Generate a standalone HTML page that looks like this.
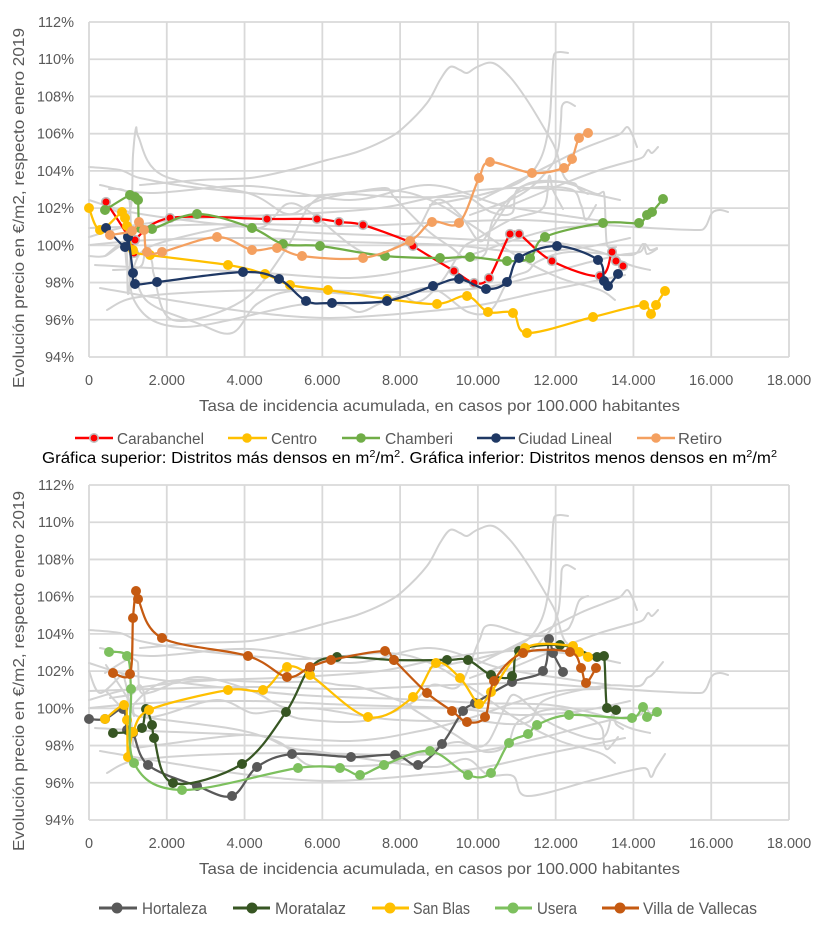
<!DOCTYPE html>
<html>
<head>
<meta charset="utf-8">
<style>
  html,body{margin:0;padding:0;background:#fff;}
  svg{display:block;}
  .tk{font-family:"Liberation Sans",Arial,sans-serif;font-size:14.5px;fill:#595959;}
  .ti{font-family:"Liberation Sans",Arial,sans-serif;font-size:16px;fill:#595959;}
  .lg{font-family:"Liberation Sans",Arial,sans-serif;fill:#595959;}
  .cap{font-family:"Liberation Sans",Arial,sans-serif;font-size:15.5px;fill:#000;}
</style>
</head>
<body>
<svg id="c" xmlns="http://www.w3.org/2000/svg" width="827" height="929" viewBox="0 0 827 929">
  <rect x="0" y="0" width="827" height="929" fill="#fff"/>
  <g id="grid"></g>
  <g id="gray" fill="none" stroke="#D2D2D2" stroke-width="2" stroke-linejoin="round" stroke-linecap="round"></g>
  <g id="ser"></g>

  <!-- TOP CHART TEXT -->
  <g class="tk" text-anchor="end">
    <text x="74" y="27">112%</text>
    <text x="74" y="64.2">110%</text>
    <text x="74" y="101.4">108%</text>
    <text x="74" y="138.7">106%</text>
    <text x="74" y="175.9">104%</text>
    <text x="74" y="213.1">102%</text>
    <text x="74" y="250.3">100%</text>
    <text x="74" y="287.6">98%</text>
    <text x="74" y="324.8">96%</text>
    <text x="74" y="362">94%</text>
  </g>
  <g class="tk" text-anchor="middle">
    <text x="89" y="385">0</text>
    <text x="166.8" y="385">2.000</text>
    <text x="244.6" y="385">4.000</text>
    <text x="322.3" y="385">6.000</text>
    <text x="400.1" y="385">8.000</text>
    <text x="477.9" y="385">10.000</text>
    <text x="555.7" y="385">12.000</text>
    <text x="633.4" y="385">14.000</text>
    <text x="711.2" y="385">16.000</text>
    <text x="789" y="385">18.000</text>
  </g>
  <text class="ti" x="199" y="411" textLength="481" lengthAdjust="spacingAndGlyphs">Tasa de incidencia acumulada, en casos por 100.000 habitantes</text>
  <text class="ti" transform="translate(24,208) rotate(-90)" text-anchor="middle" textLength="360" lengthAdjust="spacingAndGlyphs">Evolución precio en €/m2, respecto enero 2019</text>

  <!-- TOP LEGEND -->
  <g>
    <line x1="75" y1="438" x2="113" y2="438" stroke="#FF0000" stroke-width="2.5"/>
    <circle cx="94" cy="438" r="4.2" fill="#FF0000" stroke="#BFBFBF" stroke-width="1.6"/>
    <line x1="228" y1="438" x2="267" y2="438" stroke="#FFC000" stroke-width="2.5"/>
    <circle cx="247" cy="438" r="4.8" fill="#FFC000"/>
    <line x1="342" y1="438" x2="380" y2="438" stroke="#70AD47" stroke-width="2.5"/>
    <circle cx="361" cy="438" r="4.8" fill="#70AD47"/>
    <line x1="477" y1="438" x2="515" y2="438" stroke="#1F3864" stroke-width="2.5"/>
    <circle cx="496" cy="438" r="4.8" fill="#1F3864"/>
    <line x1="637" y1="438" x2="675" y2="438" stroke="#F4A060" stroke-width="2.5"/>
    <circle cx="656" cy="438" r="4.8" fill="#F4A060"/>
  </g>
  <g class="lg" font-size="15.5">
    <text x="117" y="444" textLength="87" lengthAdjust="spacingAndGlyphs">Carabanchel</text>
    <text x="271" y="444" textLength="46" lengthAdjust="spacingAndGlyphs">Centro</text>
    <text x="385" y="444" textLength="68" lengthAdjust="spacingAndGlyphs">Chamberi</text>
    <text x="518" y="444" textLength="94" lengthAdjust="spacingAndGlyphs">Ciudad Lineal</text>
    <text x="678" y="444" textLength="44" lengthAdjust="spacingAndGlyphs">Retiro</text>
  </g>

  <!-- CAPTION -->
  <text class="cap" x="42" y="463" textLength="735" lengthAdjust="spacingAndGlyphs">Gráfica superior: Distritos más densos en m<tspan dy="-6" font-size="10">2</tspan><tspan dy="6">/m</tspan><tspan dy="-6" font-size="10">2</tspan><tspan dy="6">. Gráfica inferior: Distritos menos densos en m</tspan><tspan dy="-6" font-size="10">2</tspan><tspan dy="6">/m</tspan><tspan dy="-6" font-size="10">2</tspan></text>

  <!-- BOTTOM CHART TEXT -->
  <g class="tk" text-anchor="end">
    <text x="74" y="490">112%</text>
    <text x="74" y="527.2">110%</text>
    <text x="74" y="564.4">108%</text>
    <text x="74" y="601.7">106%</text>
    <text x="74" y="638.9">104%</text>
    <text x="74" y="676.1">102%</text>
    <text x="74" y="713.3">100%</text>
    <text x="74" y="750.6">98%</text>
    <text x="74" y="787.8">96%</text>
    <text x="74" y="825">94%</text>
  </g>
  <g class="tk" text-anchor="middle">
    <text x="89" y="848">0</text>
    <text x="166.8" y="848">2.000</text>
    <text x="244.6" y="848">4.000</text>
    <text x="322.3" y="848">6.000</text>
    <text x="400.1" y="848">8.000</text>
    <text x="477.9" y="848">10.000</text>
    <text x="555.7" y="848">12.000</text>
    <text x="633.4" y="848">14.000</text>
    <text x="711.2" y="848">16.000</text>
    <text x="789" y="848">18.000</text>
  </g>
  <text class="ti" x="199" y="874" textLength="481" lengthAdjust="spacingAndGlyphs">Tasa de incidencia acumulada, en casos por 100.000 habitantes</text>
  <text class="ti" transform="translate(24,671) rotate(-90)" text-anchor="middle" textLength="360" lengthAdjust="spacingAndGlyphs">Evolución precio en €/m2, respecto enero 2019</text>

  <!-- BOTTOM LEGEND -->
  <g>
    <line x1="99" y1="908" x2="137" y2="908" stroke="#595959" stroke-width="3"/>
    <circle cx="117" cy="908" r="5.5" fill="#595959"/>
    <line x1="233" y1="908" x2="270" y2="908" stroke="#375623" stroke-width="3"/>
    <circle cx="252" cy="908" r="5.5" fill="#375623"/>
    <line x1="372" y1="908" x2="409" y2="908" stroke="#FFC000" stroke-width="3"/>
    <circle cx="390" cy="908" r="5.5" fill="#FFC000"/>
    <line x1="495" y1="908" x2="532" y2="908" stroke="#7DC05E" stroke-width="3"/>
    <circle cx="513" cy="908" r="5.5" fill="#7DC05E"/>
    <line x1="602" y1="908" x2="639" y2="908" stroke="#C55A11" stroke-width="3"/>
    <circle cx="620" cy="908" r="5.5" fill="#C55A11"/>
  </g>
  <g class="lg" font-size="16.5">
    <text x="142" y="914" textLength="65" lengthAdjust="spacingAndGlyphs">Hortaleza</text>
    <text x="275" y="914" textLength="71" lengthAdjust="spacingAndGlyphs">Moratalaz</text>
    <text x="413" y="914" textLength="57" lengthAdjust="spacingAndGlyphs">San Blas</text>
    <text x="537" y="914" textLength="40" lengthAdjust="spacingAndGlyphs">Usera</text>
    <text x="643" y="914" textLength="114" lengthAdjust="spacingAndGlyphs">Villa de Vallecas</text>
  </g>
</svg>

<script>
(function(){
  var NS='http://www.w3.org/2000/svg';
  function el(tag,attrs,parent){var e=document.createElementNS(NS,tag);for(var k in attrs)e.setAttribute(k,attrs[k]);parent.appendChild(e);return e;}
  function clampV(v,max){var l=Math.sqrt(v[0]*v[0]+v[1]*v[1]);if(l>max&&l>0){return [v[0]*max/l,v[1]*max/l];}return v;}
  function path(pts,dy){
    var q=pts.map(function(a){return [a[0],a[1]+dy];});
    var n=q.length, d='M'+q[0][0]+','+q[0][1];
    for(var i=0;i<n-1;i++){
      var p0=q[Math.max(i-1,0)],p1=q[i],p2=q[i+1],p3=q[Math.min(i+2,n-1)];
      var L=Math.sqrt((p2[0]-p1[0])*(p2[0]-p1[0])+(p2[1]-p1[1])*(p2[1]-p1[1]));
      var v1=clampV([(p2[0]-p0[0])/6,(p2[1]-p0[1])/6],0.5*L);
      var v2=clampV([(p3[0]-p1[0])/6,(p3[1]-p1[1])/6],0.5*L);
      d+=' C'+(p1[0]+v1[0]).toFixed(1)+','+(p1[1]+v1[1]).toFixed(1)+' '+(p2[0]-v2[0]).toFixed(1)+','+(p2[1]-v2[1]).toFixed(1)+' '+p2[0]+','+p2[1];
    }
    return d;
  }
  var grid=document.getElementById('grid'),gray=document.getElementById('gray'),ser=document.getElementById('ser');
  // gridlines
  [22,485].forEach(function(y0){
    for(var i=0;i<10;i++){
      var x=89+i*700/9;
      el('line',{x1:x,y1:y0,x2:x,y2:y0+335,stroke:'#D9D9D9','stroke-width':1.8},grid);
      var y=y0+i*335/9;
      el('line',{x1:89,y1:y,x2:789,y2:y,stroke:'#D9D9D9','stroke-width':1.8},grid);
    }
  });

  var TOP=[
    {c:'#FF0000',red:1,p:[[106,202],[128,236],[134,253],[135,240],[170,218],[267,219],[317,219],[339,222],[363,225],[410,242],[413,246],[454,271],[474,283],[489,278],[510,234],[519,234],[552,261],[600,276],[612,252],[616,261],[623,266]]},
    {c:'#FFC000',p:[[89,208],[100,230],[122,212],[125,218],[127,226],[133,250],[150,255],[228,265],[265,274],[290,285],[328,290],[387,299],[437,304],[467,296],[488,312],[513,313],[527,333],[593,317],[644,305],[651,314],[656,305],[665,291]]},
    {c:'#70AD47',p:[[105,210],[130,195],[135,197],[138,200],[140,228],[152,229],[197,214],[252,228],[283,244],[320,246],[385,256],[440,258],[470,257],[507,261],[530,258],[545,237],[603,223],[639,223],[647,215],[652,212],[663,199]]},
    {c:'#1F3864',p:[[106,228],[125,247],[128,237],[133,273],[135,284],[157,282],[243,272],[279,279],[306,301],[332,303],[387,301],[433,286],[459,279],[486,289],[507,282],[519,258],[557,246],[598,260],[604,281],[608,286],[618,274]]},
    {c:'#F4A060',p:[[110,235],[132,231],[139,222],[144,230],[147,252],[162,252],[217,237],[252,250],[277,248],[302,256],[363,258],[410,241],[432,222],[459,223],[479,178],[490,162],[532,173],[564,168],[572,159],[579,138],[588,133]]}
  ];
  var BOT=[
    {c:'#595959',p:[[89,719],[105,719],[123,709],[127,730],[133,733],[148,765],[197,786],[232,796],[257,767],[292,754],[351,757],[395,755],[418,765],[442,744],[463,711],[475,703],[512,682],[543,671],[549,639],[553,653],[563,672]]},
    {c:'#375623',p:[[113,733],[130,732],[142,728],[146,709],[152,725],[154,738],[173,783],[242,764],[286,712],[310,668],[337,657],[394,660],[447,660],[468,660],[491,675],[512,676],[519,651],[560,645],[597,657],[604,656],[607,708],[616,710]]},
    {c:'#FFC000',p:[[105,719],[124,705],[127,720],[128,757],[133,732],[149,710],[228,690],[263,690],[287,667],[310,675],[368,717],[413,697],[436,663],[460,678],[479,704],[491,692],[525,648],[573,646],[579,652],[588,657]]},
    {c:'#7DC05E',p:[[109,652],[127,656],[131,689],[134,763],[182,790],[298,768],[340,768],[360,775],[384,765],[430,751],[468,775],[491,773],[509,743],[528,734],[537,725],[569,715],[632,718],[643,707],[647,717],[657,712]]},
    {c:'#C55A11',p:[[113,673],[130,674],[133,618],[136,591],[138,599],[162,638],[248,656],[287,677],[310,667],[331,660],[385,651],[394,660],[427,693],[452,711],[467,722],[485,717],[494,681],[523,653],[570,652],[581,668],[586,683],[596,668]]}
  ];
  var COM=[
    [[140,185],[200,180],[250,178],[290,170],[327,160],[357,152],[385,140],[403,128],[427,103],[440,80],[450,67],[460,70],[467,73],[477,67],[493,63],[510,77],[527,100],[547,133],[556,150],[565,178],[585,190]],
    [[430,205],[480,195],[520,182],[540,160],[549,125],[552,80],[554,55],[560,52],[568,53]],
    [[470,215],[520,195],[548,170],[558,150],[561,120],[562,106],[567,102],[575,106]],
    [[480,200],[540,170],[580,150],[605,140],[620,134],[627,127],[632,134],[637,147]],
    [[500,210],[560,185],[600,170],[635,160],[643,157],[648,150],[652,153],[658,147]],
    [[89,228],[150,226],[250,224],[350,226],[450,222],[520,220],[590,224],[650,228],[700,230],[706,226],[712,213],[720,210],[728,212]],
    [[107,310],[133,298],[200,292],[300,290],[400,292],[480,288],[540,275],[590,262],[620,255],[640,252],[645,244],[650,250],[657,248]],
    [[100,288],[170,300],[250,312],[330,318],[420,312],[480,305],[540,292],[600,280],[625,275]],
    [[89,200],[130,212],[200,222],[300,232],[400,236],[480,240],[550,242],[600,252],[630,265],[650,270]],
    [[89,245],[150,240],[250,238],[350,242],[450,245],[520,252],[580,248],[630,238]],
    [[89,237],[130,226],[200,218],[300,214],[380,208],[430,198],[480,190],[530,188],[580,192],[620,200]],
    [[95,265],[150,268],[250,272],[350,278],[420,268],[470,255],[520,238],[560,228],[600,226]],
    [[89,167],[120,170],[140,178],[200,188],[300,196],[385,190],[430,200],[470,224],[520,258],[560,278],[600,290],[615,300]],
    [[100,185],[150,193],[250,186],[350,200],[430,185],[500,205],[560,215],[610,222]]
  ];
  // gray lines top chart
  COM.forEach(function(p){el('path',{d:path(p,0)},gray);});
  BOT.forEach(function(s){el('path',{d:path(s.p,-463)},gray);});
  // gray lines bottom chart
  COM.forEach(function(p){el('path',{d:path(p,463)},gray);});
  TOP.forEach(function(s){el('path',{d:path(s.p,463)},gray);});

  function drawSeries(s){
    el('path',{d:path(s.p,0),fill:'none',stroke:s.c,'stroke-width':2.25,'stroke-linejoin':'round','stroke-linecap':'round'},ser);
    s.p.forEach(function(pt){
      if(s.red){el('circle',{cx:pt[0],cy:pt[1],r:4.3,fill:'#FF0000',stroke:'#BDBDBD','stroke-width':1.6},ser);}
      else{el('circle',{cx:pt[0],cy:pt[1],r:5,fill:s.c},ser);}
    });
  }
  TOP.forEach(drawSeries);
  BOT.forEach(drawSeries);
})();
</script>
</body>
</html>
